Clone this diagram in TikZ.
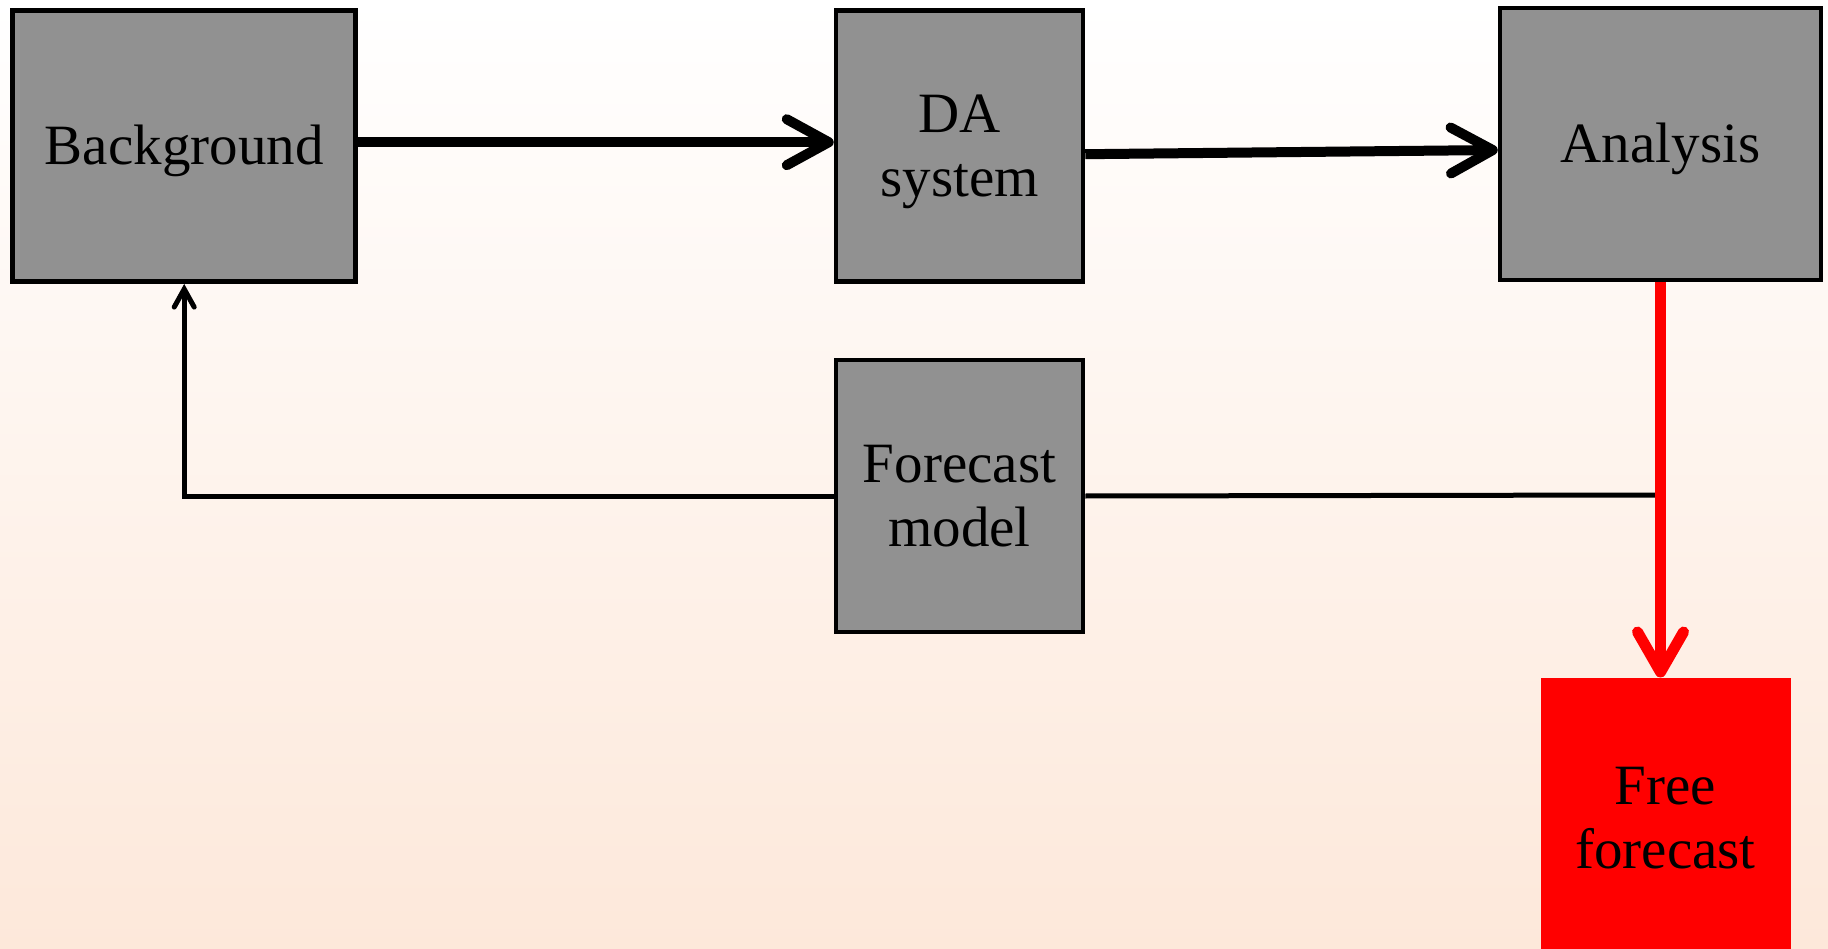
\documentclass[tikz,border=0pt]{standalone}
\usepackage{fontspec}
\setmainfont{Liberation Serif}
\usetikzlibrary{arrows.meta}
\definecolor{boxgray}{RGB}{145,145,145}
\definecolor{peach}{RGB}{253,232,218}
\newcommand\lowertext[1]{\raisebox{-6pt}[\height][\depth]{\begin{tabular}{@{}c@{}}#1\end{tabular}}}
\tikzset{
  box/.style={draw=black, line width=4.5pt, fill=boxgray, rectangle, inner sep=0pt,
    font=\fontsize{57}{64}\selectfont},
  redbox/.style={draw=red, line width=1pt, fill=red, rectangle, inner sep=0pt,
    font=\fontsize{57}{64}\selectfont},
  bigarrow/.style={line width=10pt, -{Straight Barb[length=42pt,width=46pt,line cap=round,line join=round]}},
  thinarrow/.style={line width=5pt, line join=miter, -{Straight Barb[length=18pt,width=20pt,line cap=round]}},
  redarrow/.style={draw=red, line width=11pt, -{Straight Barb[length=40pt,width=46pt,line cap=round,line join=round]}},
  plainline/.style={line width=5pt},
}
\begin{document}
\begin{tikzpicture}[x=1pt,y=-1pt]
\useasboundingbox (0,0) rectangle (1828,949);
\shade[top color=white, bottom color=peach, middle color=white!50!peach] (0,0) rectangle (1828,949);
\node[box, minimum width=343pt, minimum height=271pt] (bg) at (184.2,146.2) {\lowertext{Background}};
\node[box, minimum width=247pt, minimum height=271pt] (da) at (959.5,146.2) {\lowertext{DA\\system}};
\node[box, minimum width=321pt, minimum height=272pt] (an) at (1660.5,144) {\lowertext{Analysis}};
\node[box, minimum width=247pt, minimum height=272pt] (fm) at (959.5,496) {\lowertext{Forecast\\model}};
\node[redbox, minimum width=249pt, minimum height=280pt] (ff) at (1665.5,818) {\lowertext{Free\\forecast}};
\coordinate (j) at (1655,495);
\draw[bigarrow] ([yshift=4pt]bg.east) -- ([yshift=4pt]da.west);
\draw[bigarrow] ([yshift=-8pt]da.east) -- ([yshift=-6pt]an.west);
\draw[thinarrow] (fm.west) -- (bg.south |- fm.west) -- (bg.south);
\draw[plainline] (fm.east) -- (j);
\draw[redarrow] (an.south) -- (an.south |- ff.north);
\end{tikzpicture}
\end{document}
